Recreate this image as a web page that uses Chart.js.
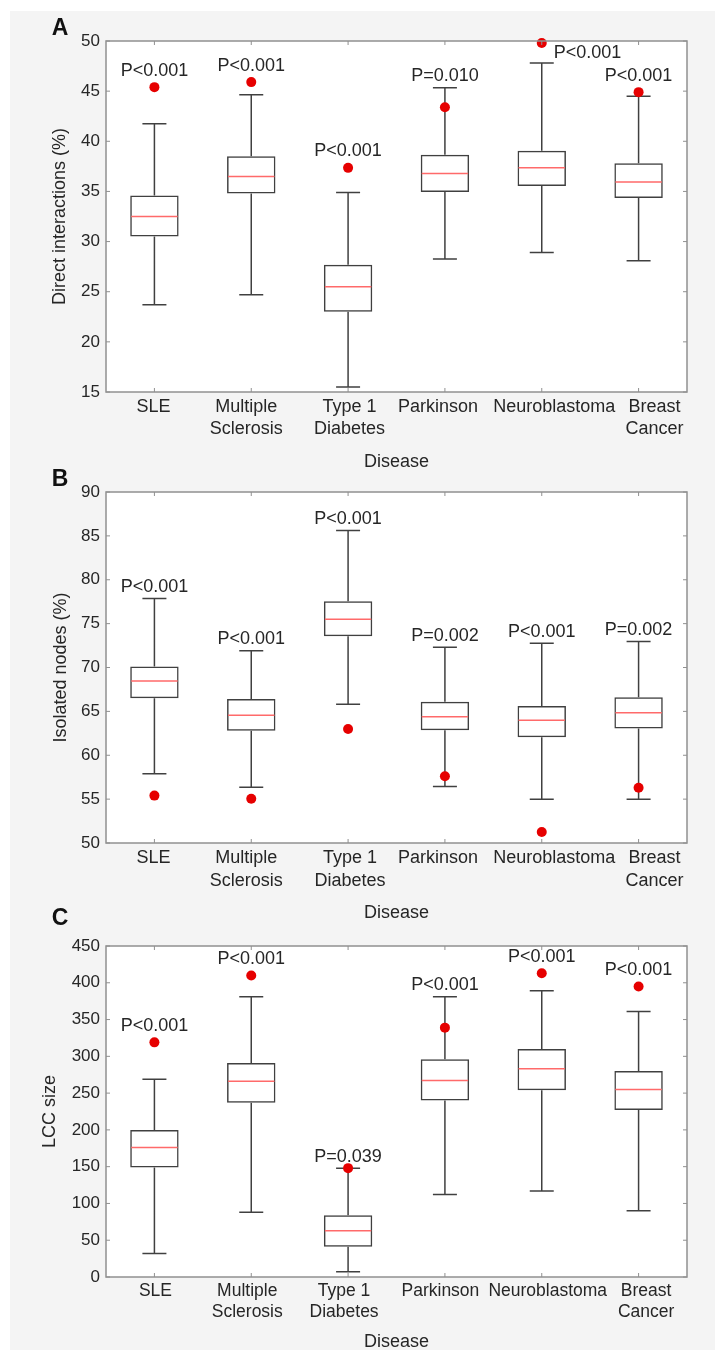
<!DOCTYPE html>
<html>
<head>
<meta charset="utf-8">
<script src="https://cdn.jsdelivr.net/npm/chart.js@4.4.0/dist/chart.umd.min.js"></script>
<style>
  body { margin: 0; background: #fff; width: 715px; height: 1357px; position: relative; overflow: hidden; }
  #bg { position: absolute; left: 10px; top: 11px; width: 705px; height: 1339px; background: #f4f4f4; }
  canvas { position: absolute; left: 0; }
</style>
</head>
<body>
<div id="bg"></div>
<canvas id="chartA" width="715" height="475" style="top:0px"></canvas>
<canvas id="chartB" width="715" height="465" style="top:460px"></canvas>
<canvas id="chartC" width="715" height="457" style="top:900px"></canvas>
<script>
const diseases = [['SLE'], ['Multiple', 'Sclerosis'], ['Type 1', 'Diabetes'], ['Parkinson'], ['Neuroblastoma'], ['Breast', 'Cancer']];

// A: direct interactions (%)
const directLow  = [23.7, 24.7, 15.5, 28.25, 28.9, 28.1];
const directQ1   = [30.5, 34.8, 23.0, 34.95, 35.55, 34.35];
const directMed  = [32.5, 36.5, 25.5, 36.8, 37.35, 35.95];
const directQ3   = [34.6, 38.5, 27.7, 38.65, 39.05, 37.8];
const directHigh = [41.75, 44.65, 34.9, 45.35, 47.8, 44.5];
const directObs  = [45.4, 45.9, 37.35, 43.4, 49.8, 44.9];
const directP    = ['P<0.001', 'P<0.001', 'P<0.001', 'P=0.010', 'P<0.001', 'P<0.001'];

// B: isolated nodes (%)
const isoLow  = [57.9, 56.35, 65.8, 56.45, 55.0, 55.0];
const isoQ1   = [66.5, 62.8, 73.55, 62.85, 62.05, 63.05];
const isoMed  = [68.45, 64.55, 75.5, 64.4, 64.0, 64.85];
const isoQ3   = [70.1, 66.4, 77.55, 66.1, 65.6, 66.6];
const isoHigh = [77.85, 71.9, 85.6, 72.3, 72.75, 72.95];
const isoObs  = [55.4, 55.05, 63.0, 57.6, 51.25, 56.3];
const isoP    = ['P<0.001', 'P<0.001', 'P<0.001', 'P=0.002', 'P<0.001', 'P=0.002'];

// C: LCC size
const lccLow  = [32, 88, 7, 112, 117, 90];
const lccQ1   = [149, 237, 41, 240, 254, 227];
const lccMed  = [176, 266, 63, 267, 283, 255];
const lccQ3   = [200, 291, 84, 296, 310, 280];
const lccHigh = [269, 381, 148, 381, 389, 361];
const lccObs  = [319, 410, 148, 339, 413, 395];
const lccP    = ['P<0.001', 'P<0.001', 'P=0.039', 'P<0.001', 'P<0.001', 'P<0.001'];

const FONT = "'Liberation Sans', Arial, sans-serif";
const textColor = '#262626';
const frameColor = '#909090';
const boxColor = '#404040';

function extras(st, o) {
  return {
    id: 'boxExtras',
    beforeDraw(chart) {
      const {ctx, chartArea: a} = chart;
      ctx.save();
      ctx.fillStyle = '#fff';
      ctx.fillRect(a.left, a.top, a.right - a.left, a.bottom - a.top);
      ctx.restore();
    },
    beforeDatasetsDraw(chart) {
      const {ctx} = chart;
      const x = chart.scales.x, y = chart.scales.y;
      ctx.save();
      ctx.strokeStyle = boxColor;
      ctx.lineWidth = 1.5;
      ctx.beginPath();
      st.low.forEach((lo, i) => {
        const cx = x.getPixelForValue(i);
        const yh = y.getPixelForValue(st.high[i]);
        const yl = y.getPixelForValue(lo);
        ctx.moveTo(cx, y.getPixelForValue(st.q3[i])); ctx.lineTo(cx, yh);
        ctx.moveTo(cx - 12, yh); ctx.lineTo(cx + 12, yh);
        ctx.moveTo(cx, y.getPixelForValue(st.q1[i])); ctx.lineTo(cx, yl);
        ctx.moveTo(cx - 12, yl); ctx.lineTo(cx + 12, yl);
      });
      ctx.stroke();
      ctx.restore();
    },
    afterDatasetsDraw(chart) {
      const {ctx} = chart;
      const x = chart.scales.x, y = chart.scales.y;
      const half = chart.getDatasetMeta(1).data[0].width / 2;
      ctx.save();
      ctx.strokeStyle = '#ff6a6a';
      ctx.lineWidth = 1.5;
      ctx.beginPath();
      st.med.forEach((m, i) => {
        const cx = x.getPixelForValue(i);
        const py = y.getPixelForValue(m);
        ctx.moveTo(cx - half + 1, py); ctx.lineTo(cx + half - 1, py);
      });
      ctx.stroke();
      ctx.fillStyle = textColor;
      ctx.font = '18px ' + FONT;
      ctx.textBaseline = 'alphabetic';
      st.p.forEach((txt, i) => {
        const cx = x.getPixelForValue(i);
        if (o.sideLabel === i) {
          ctx.textAlign = 'left';
          ctx.fillText(txt, cx + 12, y.getPixelForValue(st.obs[i]) + 15);
          return;
        }
        const top = st.obs[i] > st.high[i]
          ? y.getPixelForValue(st.obs[i]) - 5
          : y.getPixelForValue(st.high[i]);
        ctx.textAlign = 'center';
        ctx.fillText(txt, cx, top - 6.5);
      });
      ctx.restore();
    },
    afterDraw(chart) {
      const {ctx, chartArea: a} = chart;
      const x = chart.scales.x, y = chart.scales.y;
      ctx.save();
      ctx.strokeStyle = frameColor;
      ctx.lineWidth = 1.5;
      ctx.strokeRect(a.left, a.top, a.right - a.left, a.bottom - a.top);
      ctx.lineWidth = 1;
      ctx.beginPath();
      y.ticks.forEach(t => {
        const py = y.getPixelForValue(t.value);
        ctx.moveTo(a.left, py); ctx.lineTo(a.left + 4, py);
        ctx.moveTo(a.right, py); ctx.lineTo(a.right - 4, py);
      });
      diseases.forEach((d, i) => {
        const px = x.getPixelForValue(i);
        ctx.moveTo(px, a.top); ctx.lineTo(px, a.top + 4);
        ctx.moveTo(px, a.bottom); ctx.lineTo(px, a.bottom - 4);
      });
      ctx.stroke();

      // category labels, nudged sideways like the original figure
      ctx.fillStyle = textColor;
      ctx.font = o.labelSize + 'px ' + FONT;
      ctx.textAlign = 'center';
      ctx.textBaseline = 'middle';
      diseases.forEach((lines, i) => {
        const px = x.getPixelForValue(i) + o.labelShift[i];
        lines.forEach((ln, k) => ctx.fillText(ln, px, a.bottom + o.labelGap + k * o.labelLine));
      });

      ctx.fillStyle = '#111';
      ctx.font = 'bold 23px ' + FONT;
      ctx.textBaseline = 'alphabetic';
      ctx.fillText(o.tag, 60, o.tagBase);
      ctx.restore();
    }
  };
}

function boxChart(id, st, o) {
  new Chart(document.getElementById(id), {
    type: 'bar',
    data: {
      labels: diseases,
      datasets: [{
        type: 'line',
        data: st.obs,
        showLine: false,
        pointRadius: 5,
        pointBackgroundColor: '#e60000',
        pointBorderWidth: 0,
        clip: false,
        order: 1
      }, {
        data: st.q1.map((v, i) => [v, st.q3[i]]),
        backgroundColor: 'rgba(0,0,0,0)',
        borderColor: boxColor,
        borderWidth: 1.5,
        borderSkipped: false,
        barPercentage: 0.5,
        categoryPercentage: 1,
        order: 2
      }]
    },
    options: {
      responsive: false,
      animation: false,
      layout: { padding: { top: o.padTop, right: 28, left: 0, bottom: 0 } },
      plugins: { legend: { display: false }, tooltip: { enabled: false } },
      scales: {
        x: {
          offset: true,
          grid: { display: false, drawTicks: false },
          border: { display: false },
          ticks: { display: false },
          title: { display: true, text: 'Disease', color: textColor, font: { family: FONT, size: 18 }, padding: { top: 0, bottom: o.titleBottom } },
          afterFit: s => { s.height = o.xHeight; }
        },
        y: {
          min: o.min, max: o.max,
          grid: { display: false, drawTicks: false },
          border: { display: false },
          ticks: { stepSize: o.step, font: { family: FONT, size: 17 }, color: textColor, padding: 6 },
          title: { display: true, text: o.yTitle, color: textColor, font: { family: FONT, size: 18 }, padding: { top: o.yTitlePad, bottom: 0 } },
          afterFit: s => { s.width = 106; }
        }
      }
    },
    plugins: [extras(st, o)]
  });
}

boxChart('chartA',
  { low: directLow, q1: directQ1, med: directMed, q3: directQ3, high: directHigh, obs: directObs, p: directP },
  { min: 15, max: 50, step: 5, yTitle: 'Direct interactions (%)', tag: 'A', tagBase: 34.5, sideLabel: 4,
    padTop: 41, xHeight: 83, titleBottom: 2.5, yTitlePad: 49,
    labelSize: 18, labelGap: 15, labelLine: 22.3, labelShift: [-1, -5, 1.5, -7, 12.5, 16] });

boxChart('chartB',
  { low: isoLow, q1: isoQ1, med: isoMed, q3: isoQ3, high: isoHigh, obs: isoObs, p: isoP },
  { min: 50, max: 90, step: 5, yTitle: 'Isolated nodes (%)', tag: 'B', tagBase: 25.7, sideLabel: -1,
    padTop: 32, xHeight: 82, titleBottom: 1.5, yTitlePad: 50,
    labelSize: 18, labelGap: 15.5, labelLine: 22.5, labelShift: [-1, -5, 2, -7, 12.5, 16] });

boxChart('chartC',
  { low: lccLow, q1: lccQ1, med: lccMed, q3: lccQ3, high: lccHigh, obs: lccObs, p: lccP },
  { min: 0, max: 450, step: 50, yTitle: 'LCC size', tag: 'C', tagBase: 25, sideLabel: -1,
    padTop: 46, xHeight: 80, titleBottom: 4.5, yTitlePad: 39,
    labelSize: 17.5, labelGap: 14.5, labelLine: 21, labelShift: [1, -4, -4, -4.5, 6, 7.5] });
</script>
</body>
</html>
